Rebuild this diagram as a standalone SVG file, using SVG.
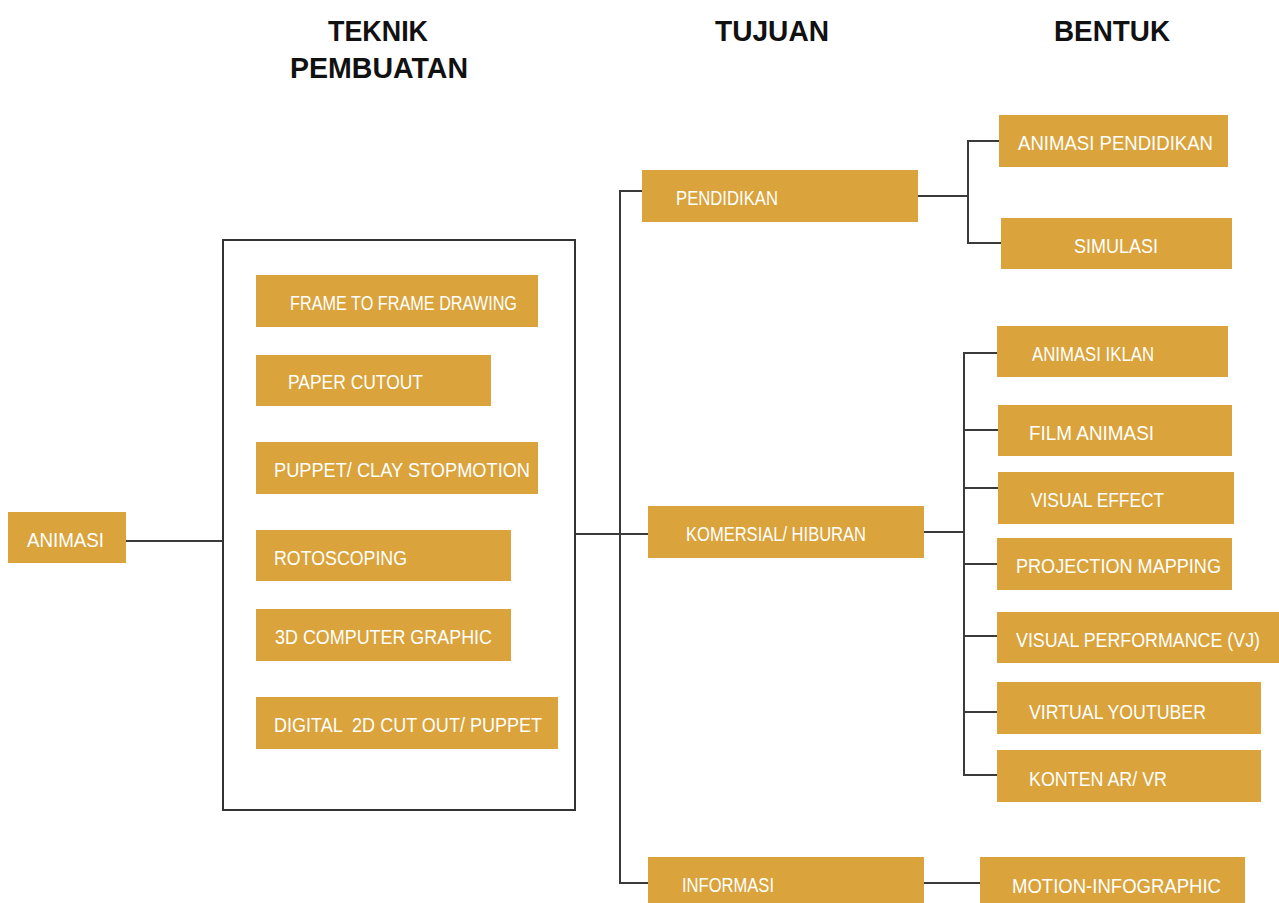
<svg xmlns="http://www.w3.org/2000/svg" width="1279" height="903" viewBox="0 0 1279 903">
  <style>
    .box { fill: #DAA33B; }
    .lbl { fill: #FFFFFF; font-family: "Liberation Sans", Arial, sans-serif; font-size: 20px; }
    .hdr { fill: #111111; font-family: "Liberation Sans", Arial, sans-serif; font-size: 30px; font-weight: bold; }
    .wire { fill: none; stroke: #3a3a3a; stroke-width: 2; }
    .frame { fill: none; stroke: #333333; stroke-width: 2; }
  </style>
  <rect width="1279" height="903" fill="#FFFFFF"/>

  <!-- column headers -->
  <g id="headers">
    <text class="hdr" x="378" y="41" text-anchor="middle" textLength="100" lengthAdjust="spacingAndGlyphs">TEKNIK</text>
    <text class="hdr" x="379" y="78" text-anchor="middle" textLength="178" lengthAdjust="spacingAndGlyphs">PEMBUATAN</text>
    <text class="hdr" x="772" y="41" text-anchor="middle" textLength="114" lengthAdjust="spacingAndGlyphs">TUJUAN</text>
    <text class="hdr" x="1112" y="41" text-anchor="middle" textLength="116" lengthAdjust="spacingAndGlyphs">BENTUK</text>
  </g>

  <!-- connectors -->
  <g id="connectors">
    <line class="wire" x1="126" y1="541" x2="223" y2="541"/>
    <line class="wire" x1="575" y1="534" x2="648" y2="534"/>
    <polyline class="wire" points="642,191 620,191 620,883 648,883"/>
    <polyline class="wire" points="918,196 968,196"/>
    <polyline class="wire" points="999,141 968,141 968,243 1001,243"/>
    <line class="wire" x1="924" y1="532" x2="964" y2="532"/>
    <polyline class="wire" points="997,353 964,353 964,775 997,775"/>
    <line class="wire" x1="964" y1="430" x2="998" y2="430"/>
    <line class="wire" x1="964" y1="488" x2="998" y2="488"/>
    <line class="wire" x1="964" y1="564" x2="997" y2="564"/>
    <line class="wire" x1="964" y1="636" x2="997" y2="636"/>
    <line class="wire" x1="964" y1="712" x2="997" y2="712"/>
    <line class="wire" x1="924" y1="883" x2="980" y2="883"/>
  </g>

  <!-- root -->
  <g id="animasi">
    <rect class="box" x="8" y="512" width="118" height="51"/>
    <text class="lbl" x="27" y="547" textLength="77" lengthAdjust="spacingAndGlyphs">ANIMASI</text>
  </g>

  <!-- techniques group frame -->
  <g id="teknik">
    <rect class="frame" x="223" y="240" width="352" height="570"/>
    <g id="frame-to-frame">
      <rect class="box" x="256" y="275" width="282" height="52"/>
      <text class="lbl" x="290" y="310" textLength="227" lengthAdjust="spacingAndGlyphs">FRAME TO FRAME DRAWING</text>
    </g>
    <g id="paper-cutout">
      <rect class="box" x="256" y="355" width="235" height="51"/>
      <text class="lbl" x="288" y="389" textLength="135" lengthAdjust="spacingAndGlyphs">PAPER CUTOUT</text>
    </g>
    <g id="puppet-clay">
      <rect class="box" x="256" y="442" width="282" height="52"/>
      <text class="lbl" x="274" y="477" textLength="256" lengthAdjust="spacingAndGlyphs">PUPPET/ CLAY STOPMOTION</text>
    </g>
    <g id="rotoscoping">
      <rect class="box" x="256" y="530" width="255" height="51"/>
      <text class="lbl" x="274" y="565" textLength="133" lengthAdjust="spacingAndGlyphs">ROTOSCOPING</text>
    </g>
    <g id="cg-3d">
      <rect class="box" x="256" y="609" width="255" height="52"/>
      <text class="lbl" x="275" y="644" textLength="217" lengthAdjust="spacingAndGlyphs">3D COMPUTER GRAPHIC</text>
    </g>
    <g id="digital-2d">
      <rect class="box" x="256" y="697" width="302" height="52"/>
      <text class="lbl" x="274" y="732" textLength="268" lengthAdjust="spacingAndGlyphs" xml:space="preserve">DIGITAL  2D CUT OUT/ PUPPET</text>
    </g>
  </g>

  <!-- purposes -->
  <g id="pendidikan">
    <rect class="box" x="642" y="170" width="276" height="52"/>
    <text class="lbl" x="676" y="205" textLength="102" lengthAdjust="spacingAndGlyphs">PENDIDIKAN</text>
  </g>
  <g id="komersial">
    <rect class="box" x="648" y="506" width="276" height="52"/>
    <text class="lbl" x="686" y="541" textLength="180" lengthAdjust="spacingAndGlyphs">KOMERSIAL/ HIBURAN</text>
  </g>
  <g id="informasi">
    <rect class="box" x="648" y="857" width="276" height="52"/>
    <text class="lbl" x="682" y="892" textLength="92" lengthAdjust="spacingAndGlyphs">INFORMASI</text>
  </g>

  <!-- forms -->
  <g id="animasi-pendidikan">
    <rect class="box" x="999" y="115" width="229" height="52"/>
    <text class="lbl" x="1018" y="150" textLength="195" lengthAdjust="spacingAndGlyphs">ANIMASI PENDIDIKAN</text>
  </g>
  <g id="simulasi">
    <rect class="box" x="1001" y="218" width="231" height="51"/>
    <text class="lbl" x="1074" y="253" textLength="84" lengthAdjust="spacingAndGlyphs">SIMULASI</text>
  </g>
  <g id="animasi-iklan">
    <rect class="box" x="997" y="326" width="231" height="51"/>
    <text class="lbl" x="1032" y="361" textLength="122" lengthAdjust="spacingAndGlyphs">ANIMASI IKLAN</text>
  </g>
  <g id="film-animasi">
    <rect class="box" x="998" y="405" width="234" height="51"/>
    <text class="lbl" x="1029" y="440" textLength="125" lengthAdjust="spacingAndGlyphs">FILM ANIMASI</text>
  </g>
  <g id="visual-effect">
    <rect class="box" x="998" y="472" width="236" height="52"/>
    <text class="lbl" x="1031" y="507" textLength="133" lengthAdjust="spacingAndGlyphs">VISUAL EFFECT</text>
  </g>
  <g id="projection-mapping">
    <rect class="box" x="997" y="538" width="235" height="52"/>
    <text class="lbl" x="1016" y="573" textLength="205" lengthAdjust="spacingAndGlyphs">PROJECTION MAPPING</text>
  </g>
  <g id="visual-performance">
    <rect class="box" x="997" y="612" width="282" height="51"/>
    <text class="lbl" x="1016" y="647" textLength="244" lengthAdjust="spacingAndGlyphs">VISUAL PERFORMANCE (VJ)</text>
  </g>
  <g id="virtual-youtuber">
    <rect class="box" x="997" y="682" width="264" height="52"/>
    <text class="lbl" x="1029" y="719" textLength="177" lengthAdjust="spacingAndGlyphs">VIRTUAL YOUTUBER</text>
  </g>
  <g id="konten-ar-vr">
    <rect class="box" x="997" y="750" width="264" height="52"/>
    <text class="lbl" x="1029" y="786" textLength="138" lengthAdjust="spacingAndGlyphs">KONTEN AR/ VR</text>
  </g>
  <g id="motion-infographic">
    <rect class="box" x="980" y="857" width="265" height="52"/>
    <text class="lbl" x="1012" y="893" textLength="209" lengthAdjust="spacingAndGlyphs">MOTION-INFOGRAPHIC</text>
  </g>
</svg>
